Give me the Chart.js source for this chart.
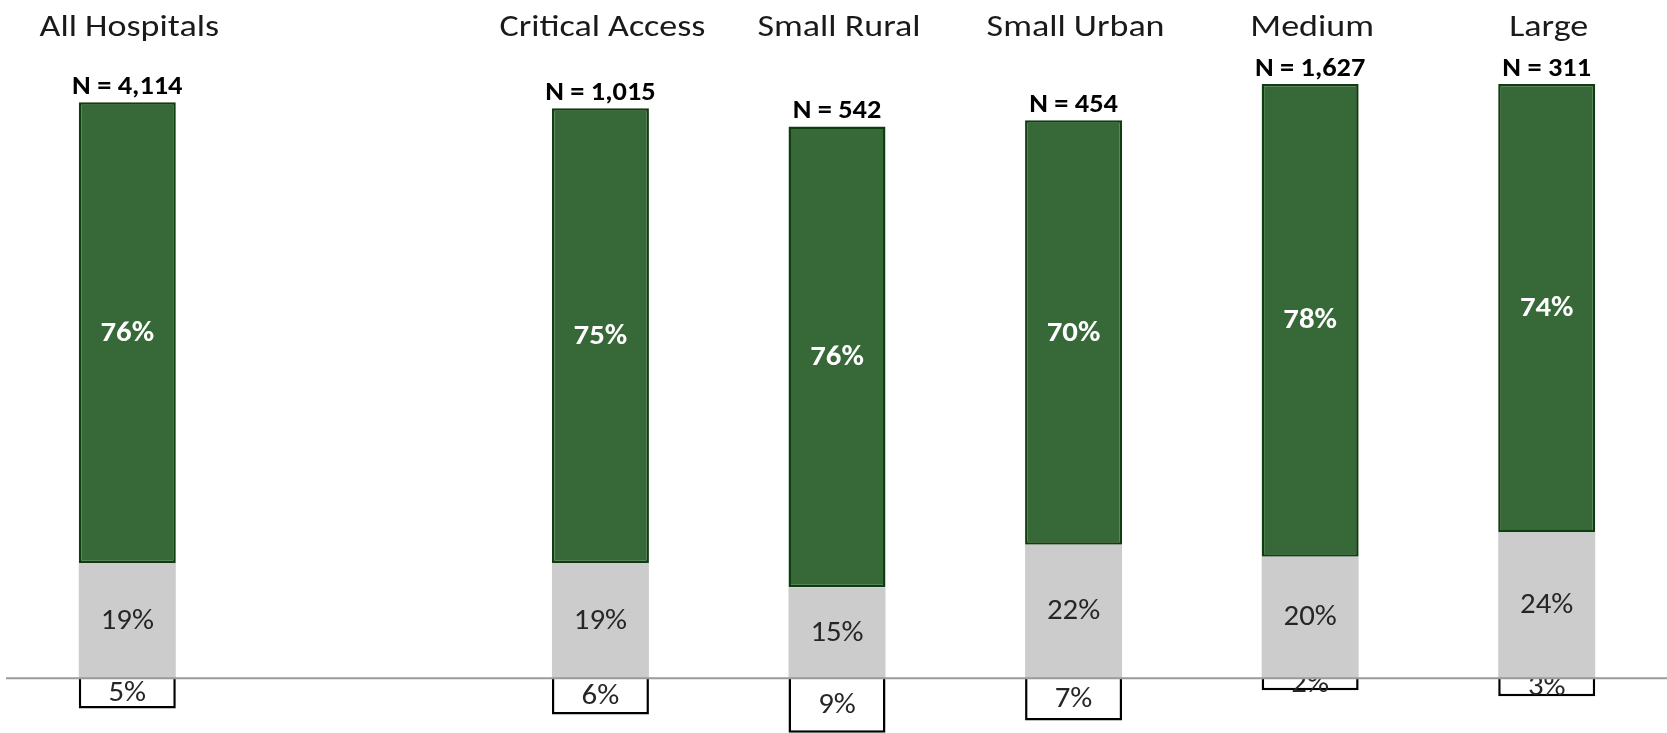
<!DOCTYPE html>
<html>
<head>
<meta charset="utf-8">
<script src="https://cdn.jsdelivr.net/npm/chart.js@4.4.1/dist/chart.umd.min.js"></script>
<style>
  html, body { margin: 0; padding: 0; background: #fff; }
  #wrap { width: 1667px; height: 733px; }
</style>
</head>
<body>
<div id="wrap"><canvas id="chart"></canvas></div>
<script>
// hospital groups (empty slot keeps the gap after "All Hospitals")
const categories = ["All Hospitals", "", "Critical Access", "Small Rural", "Small Urban", "Medium", "Large"];
const nLabels = ["N = 4,114", "", "N = 1,015", "N = 542", "N = 454", "N = 1,627", "N = 311"];
const grayVals = [19, null, 19, 15, 22, 20, 24];
const greenVals = [76, null, 75, 76, 70, 78, 74];
const whiteVals = [-5, null, -6, -9, -7, -2, -3];

const FONT = "Carlito, Lato, 'Open Sans', sans-serif";

// text stretched a little wider, like the original
function stretchedText(ctx, txt, x, y, sx) {
    ctx.save();
    ctx.translate(x, y);
    ctx.scale(sx, 1);
    ctx.fillText(txt, 0, 0);
    ctx.restore();
}

const barLabels = {
    id: "barLabels",
    // % inside each bar, right after that dataset is drawn
    afterDatasetDraw(chart, args) {
        const ctx = chart.ctx;
        const ds = chart.data.datasets[args.index];
        ctx.save();
        ctx.textAlign = "center";
        ctx.textBaseline = "middle";
        args.meta.data.forEach((bar, i) => {
            const v = ds.data[i];
            if (v === null || v === undefined) return;
            const mid = (bar.y + bar.base) / 2;
            if (args.index === 1) {
                ctx.fillStyle = "#ffffff";
                ctx.font = "bold 28px " + FONT;
            } else {
                ctx.fillStyle = "#262626";
                ctx.font = "28px " + FONT;
            }
            stretchedText(ctx, Math.abs(v) + "%", bar.x, mid + 1, 1.1);
        });
        ctx.restore();
    },
    afterDatasetsDraw(chart) {
        const ctx = chart.ctx;
        const y0 = chart.scales.y.getPixelForValue(0);
        // baseline
        ctx.save();
        ctx.strokeStyle = "#9a9a9a";
        ctx.lineWidth = 2;
        ctx.beginPath();
        ctx.moveTo(6, y0);
        ctx.lineTo(chart.width, y0);
        ctx.stroke();
        // N counts above the bars
        const top = chart.getDatasetMeta(1).data;
        ctx.fillStyle = "#000000";
        ctx.font = "bold 27px " + FONT;
        ctx.textAlign = "center";
        ctx.textBaseline = "alphabetic";
        top.forEach((bar, i) => {
            if (!nLabels[i]) return;
            stretchedText(ctx, nLabels[i], bar.x, bar.y - 8, 1.05);
        });
        // group names along the top
        ctx.fillStyle = "#1a1a1a";
        ctx.font = "30px " + FONT;
        ctx.textBaseline = "alphabetic";
        const xs = chart.scales.x;
        categories.forEach((c, i) => {
            if (!c) return;
            stretchedText(ctx, c, xs.getPixelForValue(i) + 2, 36, 1.2);
        });
        ctx.restore();
    }
};

const ctx = document.getElementById("chart");
new Chart(ctx, {
    type: "bar",
    data: {
        labels: categories,
        datasets: [
            {
                label: "Gray",
                data: grayVals,
                backgroundColor: "#cccccc",
                borderWidth: 0,
                barPercentage: 0.41,
                categoryPercentage: 1
            },
            {
                label: "Green",
                data: greenVals,
                backgroundColor: "#376837",
                borderColor: "#0f3d0f",
                borderWidth: 2.5,
                borderSkipped: false,
                barPercentage: 0.41,
                categoryPercentage: 1
            },
            {
                label: "White",
                data: whiteVals,
                backgroundColor: "#ffffff",
                borderColor: "#000000",
                borderWidth: 2.5,
                barPercentage: 0.41,
                categoryPercentage: 1
            }
        ]
    },
    options: {
        responsive: true,
        maintainAspectRatio: false,
        animation: false,
        layout: { padding: { left: 9, right: 2, top: 70, bottom: 0 } },
        plugins: {
            legend: { display: false },
            tooltip: { enabled: false }
        },
        scales: {
            x: {
                stacked: true,
                display: false
            },
            y: {
                stacked: true,
                display: false,
                min: -9.05,
                max: 100.3
            }
        }
    },
    plugins: [barLabels]
});
</script>
</body>
</html>
